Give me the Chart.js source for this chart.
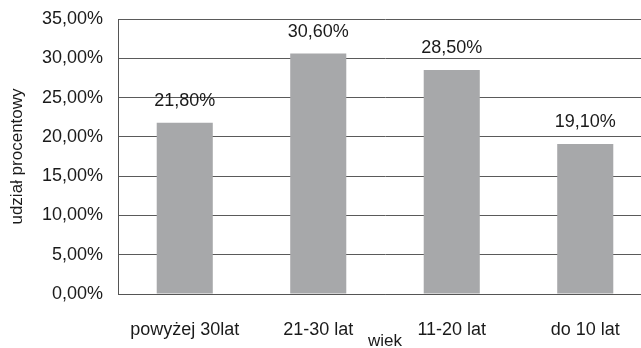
<!DOCTYPE html>
<html>
<head>
<meta charset="utf-8">
<script src="https://cdn.jsdelivr.net/npm/chart.js@4"></script>
<style>
  html, body { margin: 0; padding: 0; background: #fff; overflow: hidden; }
  #wrap { width: 641px; height: 348px; overflow: hidden; }
</style>
</head>
<body>
<div id="wrap"><canvas id="age-bar-chart" width="652" height="348"></canvas></div>
<script>
const categories = ["powyżej 30lat", "21-30 lat", "11-20 lat", "do 10 lat"];
const shares = [21.8, 30.6, 28.5, 19.1];
const yTicks = [0, 5, 10, 15, 20, 25, 30, 35];

const fmt = (v) => v.toFixed(2).replace(".", ",") + "%";
const FONT = "'Liberation Sans', Arial, sans-serif";

const valueLabels = {
  id: "valueLabels",
  afterDatasetsDraw(chart) {
    const ctx = chart.ctx;
    ctx.save();
    ctx.font = "18px " + FONT;
    ctx.fillStyle = "#1a1a1a";
    ctx.textAlign = "center";
    ctx.textBaseline = "bottom";
    chart.getDatasetMeta(0).data.forEach((bar, i) => {
      ctx.fillText(fmt(shares[i]), bar.x, bar.y - 13);
    });
    ctx.restore();
  },
};

new Chart(document.getElementById("age-bar-chart"), {
  type: "bar",
  data: {
    labels: categories,
    datasets: [
      {
        data: shares,
        backgroundColor: "#a7a8aa",
        barPercentage: 0.42,
        categoryPercentage: 1,
      },
    ],
  },
  options: {
    responsive: false,
    animation: false,
    layout: { padding: { top: 19, right: 0, left: 0, bottom: 0 } },
    plugins: { legend: { display: false }, tooltip: { enabled: false } },
    scales: {
      x: {
        grid: { display: false, drawTicks: false },
        border: { display: true, color: "#555", width: 1 },
        ticks: { color: "#1a1a1a", font: { family: FONT, size: 18 }, padding: 25, maxRotation: 0 },
        title: {
          display: true,
          text: "wiek",
          color: "#1a1a1a",
          font: { family: FONT, size: 17, lineHeight: 1 },
          padding: { top: 0, bottom: -2 },
        },
        afterFit: (scale) => { scale.height = 54; scale.paddingLeft = 0; scale.paddingRight = 0; },
      },
      y: {
        min: 0,
        max: 35,
        afterBuildTicks: (scale) => { scale.ticks = yTicks.map((v) => ({ value: v })); },
        grid: { color: "#5a5a5a", lineWidth: 1, drawTicks: false },
        border: { display: true, color: "#555", width: 1 },
        ticks: { color: "#1a1a1a", font: { family: FONT, size: 18 }, padding: 15, callback: (v) => fmt(v) },
        title: {
          display: true,
          text: "udział procentowy",
          color: "#1a1a1a",
          font: { family: FONT, size: 17, lineHeight: 1 },
          padding: { top: 9, bottom: 0 },
        },
        afterFit: (scale) => { scale.width = 118; scale.paddingTop = 0; scale.paddingBottom = 0; },
      },
    },
  },
  plugins: [valueLabels],
});
</script>
</body>
</html>
